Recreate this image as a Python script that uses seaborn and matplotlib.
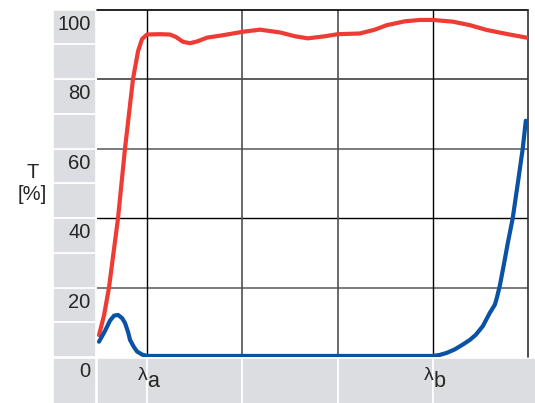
import numpy as np
import pandas as pd
import matplotlib
matplotlib.use('Agg')
import matplotlib.pyplot as plt
from matplotlib.patches import Rectangle
import seaborn as sns

# red curve (upper), x in units where lambda_a = 1 and lambda_b = 4
red_x = [0.496, 0.549, 0.601, 0.696, 0.769, 0.853, 0.906, 0.948, 1.0, 1.136, 1.241, 1.304,
         1.378, 1.451, 1.525, 1.63, 1.797, 2.007, 2.186, 2.396, 2.553, 2.689, 2.868, 3.004,
         3.235, 3.392, 3.518, 3.707, 3.865, 4.001, 4.211, 4.389, 4.568, 4.788, 4.987]
red_t = [6.3, 12.0, 20.0, 40.0, 60.0, 80.0, 88.0, 91.5, 92.8, 92.9, 92.8, 92.1,
         90.7, 90.3, 90.8, 91.9, 92.6, 93.6, 94.2, 93.4, 92.3, 91.7, 92.3, 92.9,
         93.1, 94.2, 95.5, 96.6, 97.0, 97.0, 96.5, 95.5, 94.1, 92.9, 91.9]

# blue curve (lower)
blue_x = [0.496, 0.559, 0.612, 0.654, 0.696, 0.738, 0.769, 0.801, 0.822, 0.864, 0.895, 0.948,
          1.0, 2.0, 3.0, 4.0, 4.074, 4.148, 4.232, 4.316, 4.389, 4.452, 4.526, 4.599,
          4.651, 4.669, 4.704, 4.739, 4.788, 4.840, 4.893, 4.945, 4.977]
blue_t = [4.4, 7.5, 10.5, 11.9, 12.1, 11.2, 9.8, 7.2, 4.9, 2.8, 1.6, 0.7,
          0.3, 0.3, 0.3, 0.3, 0.6, 1.2, 2.2, 3.6, 4.9, 6.4, 8.9, 12.7,
          15.0, 16.6, 20.5, 25.5, 32.8, 40.0, 50.0, 60.0, 68.0]

y_ticks = [0, 20, 40, 60, 80, 100]
x_marks = [1, 4]
x_mark_labels = ['a', 'b']

sns.set_style('white')
plt.rcParams['font.family'] = ['Liberation Sans', 'DejaVu Sans']

red = '#ee3b33'
blue = '#0a52a3'
band = '#dcdde0'

fig = plt.figure(figsize=(5.35, 4.03), dpi=100)
ax = fig.add_axes([97 / 535, 1 - 357 / 403, (528 - 97) / 535, (357 - 9.5) / 403])
ax.set_xlim(0.475, 5.0)
ax.set_ylim(0, 100)
ax.axis('off')

# gray bands on the left and at the bottom
for k in range(10):
    ax.add_patch(Rectangle((0.013, 10 * k), 0.4515, 10, fc=band, ec='white', lw=1.2, clip_on=False))
bottom_edges = [(0.013, 0.4645), (0.475, 1), (1, 2), (2, 3), (3, 4), (4, 5.2)]
for x0, x1 in bottom_edges:
    ax.add_patch(Rectangle((x0, -14), x1 - x0, 13.7, fc=band, ec='white', lw=1.2, clip_on=False))

# grid
for y in [20, 60]:
    ax.plot([0.475, 5], [y, y], color='#707070', lw=1.3, zorder=1)
ax.plot([0.475, 5], [80, 80], color='#404040', lw=1.2, zorder=1)
ax.plot([0.475, 5], [40, 40], color='black', lw=1.0, zorder=1)
for x in [2, 3]:
    ax.plot([x, x], [0, 100], color='#505050', lw=1.2, zorder=1)
for x in [1, 4]:
    ax.plot([x, x], [0, 100], color='black', lw=1.0, zorder=1)
ax.plot([0.475, 5], [100, 100], color='black', lw=1.2, clip_on=False, zorder=1)
ax.plot([5, 5], [0, 100], color='#303030', lw=1.2, clip_on=False, zorder=1)

df_red = pd.DataFrame({'x': red_x, 'T': red_t})
df_blue = pd.DataFrame({'x': blue_x, 'T': blue_t})
sns.lineplot(data=df_red, x='x', y='T', color=red, lw=3, ax=ax, sort=False, zorder=3)
sns.lineplot(data=df_blue, x='x', y='T', color=blue, lw=3, ax=ax, sort=False, zorder=3)
ax.axis('off')

for t in y_ticks:
    ax.text(0.407, t - 4.2, str(t), ha='right', va='center', fontsize=14.5, clip_on=False)

ax.text(-0.2, 50, 'T\n[%]', ha='center', va='center', fontsize=14.5, multialignment='center')

for x, lab in zip(x_marks, x_mark_labels):
    ax.text(x + 0.005, -6.6, '\u03bb', ha='right', va='baseline', fontsize=14)
    ax.text(x + 0.005, -8.6, lab, ha='left', va='baseline', fontsize=15.5)

fig.savefig('out.png', dpi=100)
